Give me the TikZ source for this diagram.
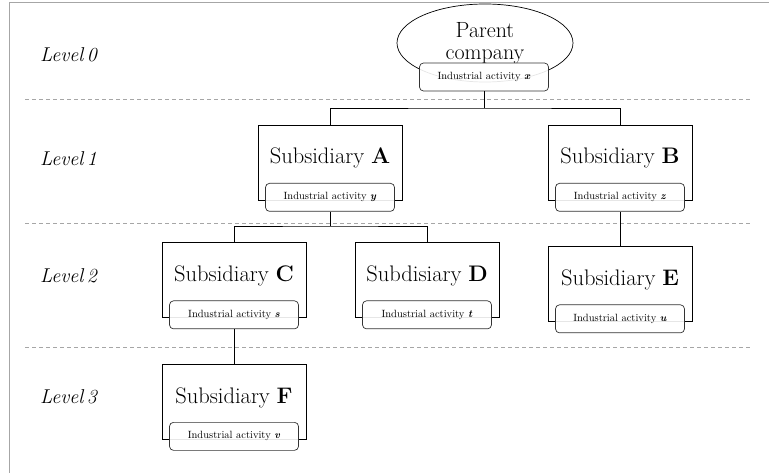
\documentclass[tikz,border=0pt]{standalone}
\usepackage{fontspec}
\usetikzlibrary{shapes.geometric}
\tikzstyle{every picture} = [x=1pt, y=-1pt]
\tikzstyle{sub} = [draw, rectangle, minimum width=144pt, minimum height=75pt, inner ysep=0pt, text height=39pt, text depth=36pt, line width=0.7pt, font=\fontsize{22.5}{26}\selectfont]
\tikzstyle{activity} = [draw=black!80, rounded corners=4pt, fill=white, fill opacity=0.9, text opacity=1, minimum width=129pt, minimum height=28pt, line width=0.7pt, font=\fontsize{10.5}{12}\selectfont]
\tikzstyle{level} = [anchor=base west, inner sep=0pt, font=\fontsize{20}{22}\selectfont\itshape]
\tikzstyle{split} = [dash pattern=on 4pt off 3pt, gray!70, line width=0.8pt]

\begin{document}
\begin{tikzpicture}
    \useasboundingbox (0,0) rectangle (769,473);
    \draw[gray!70, line width=1pt] (9,473) -- (9,3) -- (769,3);

    \draw[split] (25,99) -- (752,99);
    \draw[split] (25,223) -- (752,223);
    \draw[split] (25,347) -- (752,347);

    \node (level 0) [level] at (40,62) {Level\,0};
    \node (level 1) [level] at (40,166) {Level\,1};
    \node (level 2) [level] at (40,283) {Level\,2};
    \node (level 3) [level] at (40,403) {Level\,3};

    \node (parent) [ellipse, draw, line width=0.7pt, minimum width=176pt, minimum height=78pt, align=center, font=\fontsize{22}{22.5}\selectfont] at (485,43) {Parent\\company};
    \node (actx) [activity] at (484,77) {Industrial activity \textbf{\textit{x}}};

    \node (subA) [sub] at (330,162.5) {Subsidiary \textbf{A}};
    \node (subB) [sub] at (620,162.5) {Subsidiary \textbf{B}};
    \node (subC) [sub] at (234,280) {Subsidiary \textbf{C}};
    \node (subD) [sub] at (427,280) {Subdisiary \textbf{D}};
    \node (subE) [sub] at (620,284) {Subsidiary \textbf{E}};
    \node (subF) [sub] at (234,401.5) {Subsidiary \textbf{F}};

    \node (acty) [activity] at ([yshift=3pt]subA.south) {Industrial activity \textbf{\textit{y}}};
    \node (actz) [activity] at ([yshift=3pt]subB.south) {Industrial activity \textbf{\textit{z}}};
    \node (acts) [activity] at ([yshift=3pt]subC.south) {Industrial activity \textbf{\textit{s}}};
    \node (actt) [activity] at ([yshift=3pt]subD.south) {Industrial activity \textbf{\textit{t}}};
    \node (actu) [activity] at ([yshift=3pt]subE.south) {Industrial activity \textbf{\textit{u}}};
    \node (actv) [activity] at ([yshift=3pt]subF.south) {Industrial activity \textbf{\textit{v}}};

    % tree connectors
    \coordinate (fork 0) at (484,108);
    \coordinate (fork 1) at (330,226);
    \draw (actx.south) -- (fork 0);
    \draw (subA.north) |- (fork 0) -| (subB.north);
    \draw (acty.south) -- (fork 1);
    \draw (subC.north) |- (fork 1) -| (subD.north);
    \draw (actz.south) -- (subE.north);
    \draw (acts.south) -- (subF.north);
\end{tikzpicture}
\end{document}
